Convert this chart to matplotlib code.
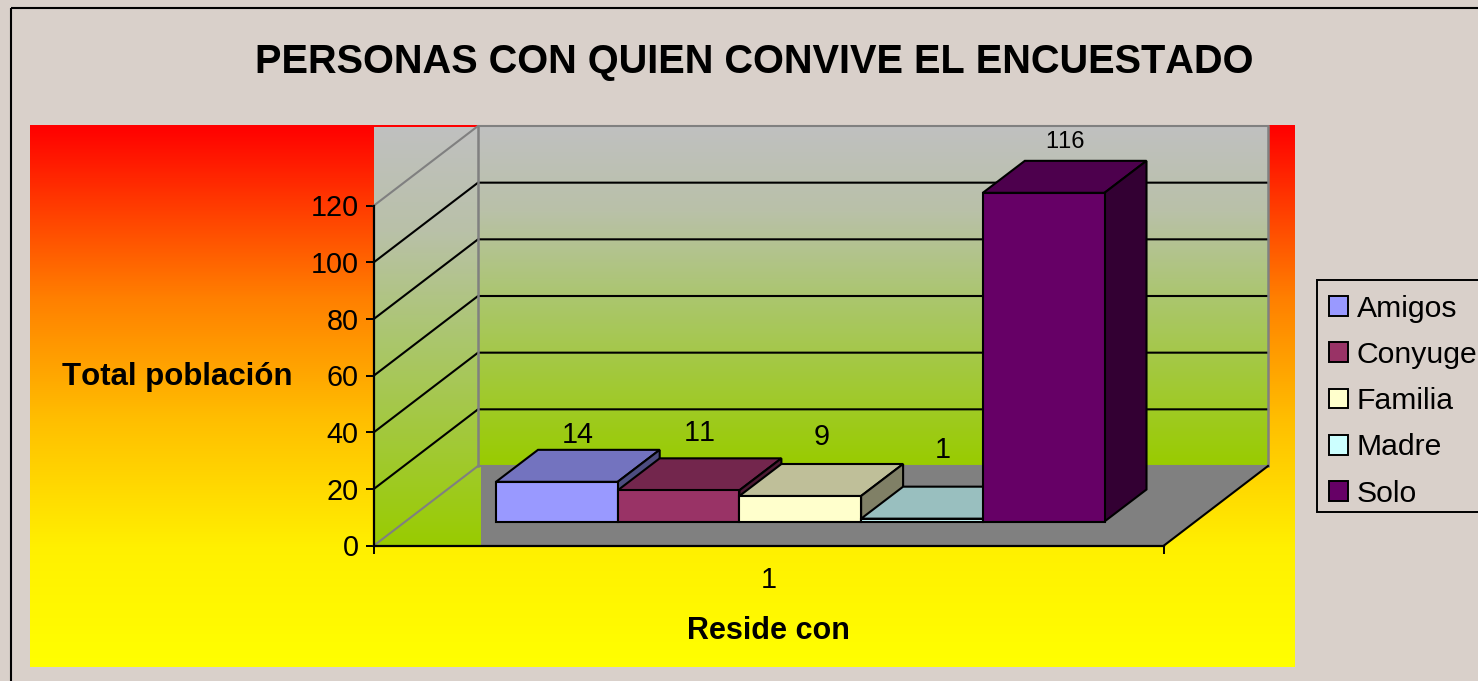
import numpy as np
import matplotlib
matplotlib.use("Agg")
import matplotlib.pyplot as plt
from matplotlib.colors import LinearSegmentedColormap, to_rgb
from matplotlib.patches import Polygon, Patch, Rectangle

categories = ["Amigos", "Conyuge", "Familia", "Madre", "Solo"]
values = [14, 11, 9, 1, 116]
colors = ["#9999FF", "#993366", "#FFFFCC", "#CCFFFF", "#660066"]
y_ticks = [0, 20, 40, 60, 80, 100, 120]
x_label = "1"

W, H = 1478, 681
plt.rcParams["font.family"] = ["Liberation Sans", "DejaVu Sans"]
plt.rcParams["text.kerning_factor"] = 6
fig = plt.figure(figsize=(W / 100, H / 100), dpi=100, facecolor="#D9D0CA")

# ---- background layer, in pixel coordinates
bg = fig.add_axes([0, 0, 1, 1], zorder=0)
bg.set_xlim(0, W)
bg.set_ylim(H, 0)
bg.axis("off")
bg.add_patch(Rectangle((10.5, 7.5), W + 20, H + 20, fc="none", ec="black", lw=1.5))

grad = np.linspace(0, 1, 256).reshape(-1, 1)
panel = LinearSegmentedColormap.from_list(
    "p", [(0, "#FF0000"), (0.32, "#FF8000"), (0.55, "#FFC000"), (0.78, "#FFF000"), (1, "#FFFF00")])
wall = LinearSegmentedColormap.from_list(
    "w", [(0, "#C0C0C0"), (0.25, "#B9C1A8"), (0.5, "#ABC66F"), (1, "#99CC00")])
bg.imshow(grad, cmap=panel, extent=(30, 1295, 667, 125), aspect="auto", zorder=1)
bg.imshow(grad, cmap=wall, extent=(374, 481, 546, 127), aspect="auto", zorder=2)
bg.imshow(grad, cmap=wall, extent=(478, 1269, 465, 127), aspect="auto", zorder=2)
bg.set_xlim(0, W)
bg.set_ylim(H, 0)
bg.add_patch(Polygon([(481, 465), (1269, 465), (1164, 546), (481, 546)], fc="#808080", ec="none", zorder=3))
# legend frame
bg.add_patch(Rectangle((1316.5, 279.5), W, 232, fc="#D9D0CA", ec="black", lw=1.4, zorder=4))

# ---- chart layer: front plane of the 3D box
ax = fig.add_axes([374 / W, (H - 545.5) / H, 790 / W, 340 / H], zorder=2)
ax.patch.set_visible(False)
BAR_PX = 121.7
PX_PER_UNIT = 340 / 120
x_left = -122 / BAR_PX
x_right = x_left + 790 / BAR_PX
ax.set_xlim(x_left, x_right)
ax.set_ylim(0, 120)
for s in ("top", "right"):
    ax.spines[s].set_visible(False)
for s in ("left", "bottom"):
    ax.spines[s].set_linewidth(1.6)

# depth vector of the box, data units
DX = 104 / BAR_PX
DY = 79.5 / PX_PER_UNIT
GREY = "#808080"
LW = 1.5

for t in y_ticks:
    edge = GREY if t in (0, 120) else "black"
    ax.plot([x_left, x_left + DX, x_right + DX], [t, t + DY, t + DY], color=edge,
            lw=LW, clip_on=False, zorder=2, solid_joinstyle="miter")
for xe in (x_left + DX, x_right + DX):
    ax.plot([xe, xe], [DY, 120 + DY], color=GREY, lw=1.8, clip_on=False, zorder=2)
ax.plot([x_right, x_right + DX], [0, DY], color="black", lw=LW, clip_on=False, zorder=2)

# bars
by0 = 24 / PX_PER_UNIT     # lift of the bar base caused by the depth
bdx = 42 / BAR_PX          # depth of a bar
bdy = 32 / PX_PER_UNIT


def shade(c, f):
    return tuple(v * f for v in to_rgb(c))


label_gap = [15, 25, 27, 37, 19]   # px above the top back edge
label_size = [20.7, 20.7, 20.7, 20.7, 17]
for i, (v, c) in enumerate(zip(values, colors)):
    x0, x1 = i, i + 1
    y0, y1 = by0, by0 + v
    kw = dict(ec="black", lw=LW, clip_on=False, zorder=5 + i, joinstyle="miter")
    ax.add_patch(Polygon([(x0, y1), (x1, y1), (x1 + bdx, y1 + bdy), (x0 + bdx, y1 + bdy)], fc=shade(c, 0.75), **kw))
    ax.add_patch(Polygon([(x1, y0), (x1 + bdx, y0 + bdy), (x1 + bdx, y1 + bdy), (x1, y1)], fc=shade(c, 0.5), **kw))
    ax.add_patch(Polygon([(x0, y0), (x1, y0), (x1, y1), (x0, y1)], fc=c, **kw))
    ax.text((x0 + x1) / 2 + bdx / 2, y1 + bdy + label_gap[i] / PX_PER_UNIT, str(v),
            ha="center", va="center", fontsize=label_size[i], color="black", zorder=20)

ax.set_yticks(y_ticks)
ax.set_xticks([x_left, x_right], ["", ""])
ax.set_xticks([(x_left + x_right) / 2], [x_label], minor=True)
ax.tick_params(axis="both", which="major", length=6, width=1.4, labelsize=20.7, pad=5, color="black")
ax.tick_params(axis="x", which="minor", length=0, labelsize=20.7, pad=15)

ax.set_xlabel("Reside con", fontsize=22, fontweight="bold")
ax.xaxis.set_label_coords((768 - 374) / 790, -(631 - 545.5) / 340, transform=ax.transAxes)
ax.xaxis.label.set_va("center")
ax.set_ylabel("Total población", fontsize=22.5, fontweight="bold", rotation=0, ha="center", va="center")
ax.yaxis.set_label_coords((177 - 374) / 790, (545.5 - 377) / 340, transform=ax.transAxes)

fig.text(754 / W, 1 - 62 / H, "PERSONAS CON QUIEN CONVIVE EL ENCUESTADO",
         ha="center", va="center", fontsize=28.6, fontweight="bold", color="black")

handles = [Patch(fc=c, ec="black", lw=1.4) for c in colors]
leg = fig.legend(handles, categories, loc="upper left", bbox_to_anchor=(1316 / W, 1 - 282 / H),
                 bbox_transform=fig.transFigure, borderaxespad=0, fontsize=21.7, frameon=False,
                 handlelength=0.64, handleheight=0.64, handletextpad=0.3, labelspacing=0.605,
                 borderpad=0.42)
leg.set_zorder(5)

fig.savefig("out.png", dpi=100, facecolor=fig.get_facecolor())
